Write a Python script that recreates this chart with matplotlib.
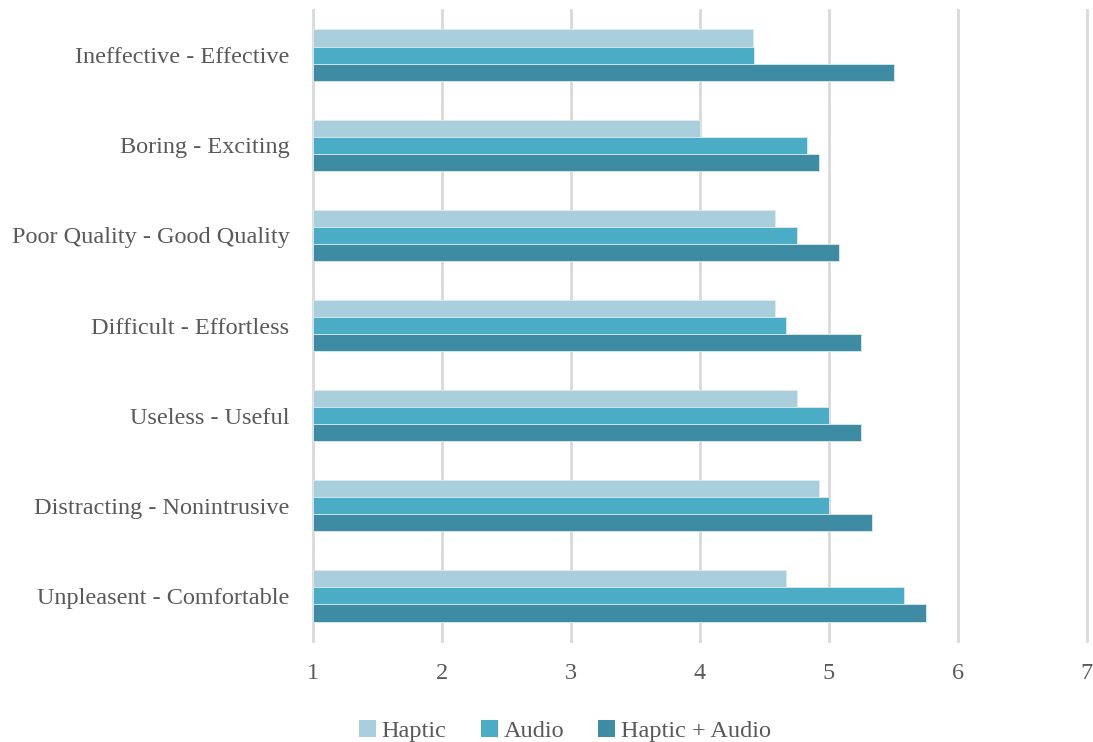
import matplotlib
matplotlib.use("Agg")
import matplotlib.pyplot as plt
import numpy as np
from matplotlib.patches import Patch

categories = ["Ineffective - Effective", "Boring - Exciting", "Poor Quality - Good Quality",
              "Difficult - Effortless", "Useless - Useful", "Distracting - Nonintrusive",
              "Unpleasent - Comfortable"]
haptic = [4.41, 4.00, 4.58, 4.58, 4.75, 4.92, 4.67]
audio = [4.42, 4.83, 4.75, 4.67, 5.00, 5.00, 5.58]
haptic_audio = [5.50, 4.92, 5.08, 5.25, 5.25, 5.33, 5.75]
series_names = ["Haptic", "Audio", "Haptic + Audio"]
colors = ["#A9CEDC", "#4BACC6", "#3D8CA3"]
xticks = [1, 2, 3, 4, 5, 6, 7]

plt.rcParams['font.family'] = ['Liberation Serif', 'DejaVu Serif']
text_color = "#595959"

fig = plt.figure(figsize=(10.93, 7.42), dpi=100)
ax = fig.add_axes([313/1093, 101/742, 774/1093, 631/742])

n = len(categories)
y = np.arange(n)
h = 0.19
series = [haptic, audio, haptic_audio]
for i, (vals, c, name) in enumerate(zip(series, colors, series_names)):
    ax.barh(y + (i - 1) * h, np.array(vals) - 1, left=1, height=h, color=c,
            edgecolor="#DCEBF0", linewidth=0.6, label=name, zorder=3)

ax.set_ylim(n - 0.5, -0.5)
ax.set_xlim(1, 7)
ax.set_xticks(xticks)
ax.set_xticklabels([str(t) for t in xticks])
ax.set_yticks(y)
ax.set_yticklabels(categories)
for s in ax.spines.values():
    s.set_visible(False)
ax.grid(axis="x", color="#D9D9D9", linewidth=2, zorder=0)
for gl in ax.get_xgridlines():
    gl.set_clip_on(False)
ax.tick_params(axis="x", length=0, pad=16, labelsize=17.5, labelcolor=text_color)
ax.tick_params(axis="y", length=0, pad=17, labelsize=17.5, labelcolor=text_color)

handles = [Patch(facecolor=c, edgecolor="none") for c in colors]
fig.legend(handles, series_names, loc="center", bbox_to_anchor=(565/1093, 1 - 731/742),
           ncol=3, frameon=False, fontsize=17.5, labelcolor=text_color,
           handlelength=0.7, handleheight=0.7, handletextpad=0.25, columnspacing=1.4)

fig.savefig("out.png", dpi=100)
